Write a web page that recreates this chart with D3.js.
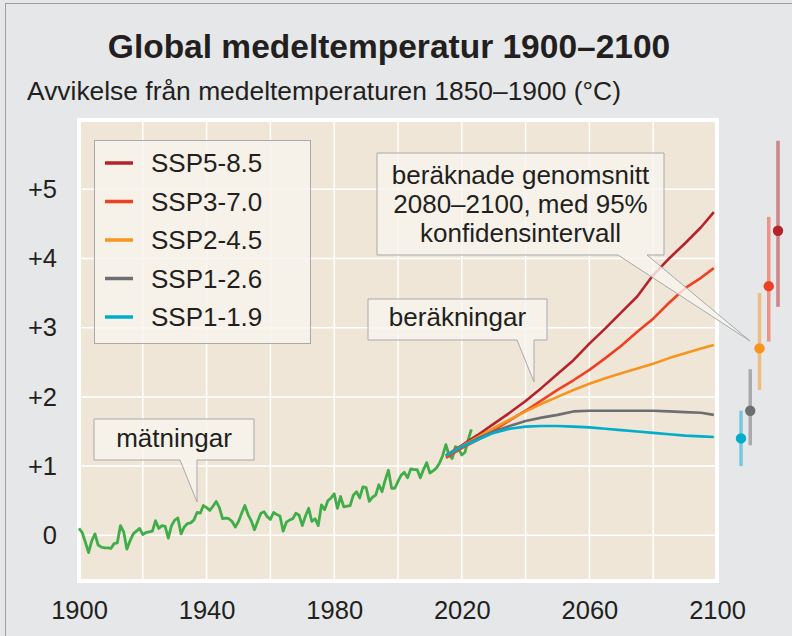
<!DOCTYPE html>
<html>
<head>
<meta charset="utf-8">
<script src="https://cdn.jsdelivr.net/npm/d3@7"></script>
<style>
  body { margin: 0; background: #e6e7e8; }
  svg { display: block; font-family: "Liberation Sans", Arial, sans-serif; }
</style>
</head>
<body>
<div id="chart"></div>
<script>
// observed anomalies 1900-2023 (one per year)
const obsStart = 1900
const observed = [
  0.10, 0.04, -0.10, -0.25, -0.08, 0.02, -0.14, -0.17, -0.18, -0.18,
  -0.19, -0.12, -0.11, 0.14, 0.05, -0.20, -0.08, 0.02, 0.06, 0.10,
  0.01, 0.04, 0.05, 0.06, 0.21, 0.10, 0.14, 0.13, -0.04, 0.14,
  0.22, 0.25, 0.02, 0.12, 0.17, 0.18, 0.22, 0.33, 0.32, 0.43,
  0.40, 0.36, 0.42, 0.49, 0.40, 0.24, 0.25, 0.24, 0.20, 0.12,
  0.20, 0.32, 0.43, 0.30, 0.21, 0.08, 0.20, 0.32, 0.34, 0.27,
  0.23, 0.33, 0.30, 0.28, 0.06, 0.19, 0.22, 0.24, 0.32, 0.29,
  0.14, 0.28, 0.39, 0.20, 0.24, 0.14, 0.44, 0.37, 0.50, 0.54,
  0.60, 0.39, 0.56, 0.41, 0.42, 0.43, 0.58, 0.63, 0.54, 0.70,
  0.69, 0.49, 0.55, 0.58, 0.73, 0.63, 0.80, 0.94, 0.68, 0.68,
  0.78, 0.87, 0.91, 0.83, 0.96, 0.95, 0.95, 0.83, 0.95, 1.05,
  0.90, 0.93, 0.97, 1.04, 1.15, 1.31, 1.16, 1.11, 1.28, 1.25,
  1.16, 1.20, 1.38, 1.53
]

// scenario projections
const projYears = [2015, 2020, 2025, 2030, 2035, 2040, 2045, 2050, 2055, 2060, 2065, 2070, 2075, 2080, 2085, 2090, 2095, 2099]
const ssp585 = [1.15, 1.30, 1.45, 1.61, 1.77, 1.94, 2.13, 2.33, 2.53, 2.77, 2.99, 3.22, 3.45, 3.76, 4.00, 4.22, 4.45, 4.67]
const ssp370 = [1.12, 1.26, 1.38, 1.52, 1.66, 1.80, 1.95, 2.10, 2.24, 2.39, 2.56, 2.74, 2.94, 3.13, 3.36, 3.57, 3.72, 3.86]
const ssp245 = [1.15, 1.29, 1.42, 1.55, 1.67, 1.79, 1.90, 2.00, 2.10, 2.19, 2.27, 2.34, 2.41, 2.48, 2.56, 2.63, 2.70, 2.75]
const ssp126 = [1.15, 1.28, 1.40, 1.50, 1.58, 1.65, 1.70, 1.74, 1.79, 1.80, 1.80, 1.80, 1.80, 1.80, 1.79, 1.78, 1.77, 1.74]
const ssp119 = [1.15, 1.28, 1.38, 1.48, 1.54, 1.57, 1.58, 1.58, 1.57, 1.56, 1.54, 1.52, 1.50, 1.48, 1.46, 1.44, 1.43, 1.42]

// 2080-2100 means with 95% interval
const scenarios = ['SSP5-8.5', 'SSP3-7.0', 'SSP2-4.5', 'SSP1-2.6', 'SSP1-1.9']
const colors = ['#b5232a', '#ee4023', '#f7941d', '#6d6e71', '#00aecb']
const endMean = [4.4, 3.6, 2.7, 1.8, 1.4]
const endLow = [3.3, 2.8, 2.1, 1.3, 1.0]
const endHigh = [5.7, 4.6, 3.5, 2.4, 1.8]

const xTicks = [1900, 1940, 1980, 2020, 2060, 2100]
const yTicks = [0, 1, 2, 3, 4, 5]
const yTickLabels = ['0', '+1', '+2', '+3', '+4', '+5']

const WIDTH = 792
const HEIGHT = 636
const PLOT = {'LEFT': 79, 'RIGHT': 717, 'TOP': 120, 'BOTTOM': 581}
const TEXT = '#231f20'

const svg = d3.select('#chart')
  .append('svg')
    .attr('width', WIDTH)
    .attr('height', HEIGHT)

// outer frame
svg.append('rect')
  .attr('x', 5.5).attr('y', 3.5)
  .attr('width', WIDTH).attr('height', HEIGHT)
  .attr('fill', '#e6e7e8')
  .attr('stroke', '#9d9fa2')

// titles
svg.append('text')
  .attr('x', 389).attr('y', 58)
  .attr('text-anchor', 'middle')
  .attr('font-size', 33.5)
  .attr('font-weight', 'bold')
  .attr('fill', TEXT)
  .text('Global medeltemperatur 1900–2100')

svg.append('text')
  .attr('x', 27).attr('y', 100)
  .attr('font-size', 26.4)
  .attr('fill', TEXT)
  .text('Avvikelse från medeltemperaturen 1850–1900 (°C)')

const x = d3.scaleLinear()
  .domain([1900, 2100])
  .range([PLOT.LEFT, PLOT.RIGHT])

const y = d3.scaleLinear()
  .domain([-0.66, 6])
  .range([PLOT.BOTTOM, PLOT.TOP])

// plot background
svg.append('rect')
  .attr('x', PLOT.LEFT).attr('y', PLOT.TOP)
  .attr('width', PLOT.RIGHT - PLOT.LEFT)
  .attr('height', PLOT.BOTTOM - PLOT.TOP)
  .attr('fill', '#efe6d7')
  .attr('stroke', '#ffffff')
  .attr('stroke-width', 4)

// grid
svg.append('g')
  .selectAll('line')
  .data(d3.range(1920, 2100, 20))
  .enter().append('line')
    .attr('x1', d => x(d)).attr('x2', d => x(d))
    .attr('y1', PLOT.TOP).attr('y2', PLOT.BOTTOM)
    .attr('stroke', '#ffffff').attr('stroke-width', 1.5)

svg.append('g')
  .selectAll('line')
  .data(yTicks)
  .enter().append('line')
    .attr('x1', PLOT.LEFT).attr('x2', PLOT.RIGHT)
    .attr('y1', d => y(d)).attr('y2', d => y(d))
    .attr('stroke', '#ffffff').attr('stroke-width', 1.5)

// axes, text only
const xAxis = svg.append('g')
  .attr('transform', `translate(0, ${PLOT.BOTTOM})`)
  .call(d3.axisBottom(x).tickValues(xTicks).tickFormat(d3.format('d')).tickSize(0).tickPadding(20))
xAxis.select('.domain').remove()
xAxis.selectAll('text')
  .attr('font-size', 25.5)
  .attr('font-family', '"Liberation Sans", Arial, sans-serif')
  .attr('fill', TEXT)

const yAxis = svg.append('g')
  .attr('transform', `translate(57, 0)`)
  .call(d3.axisLeft(y).tickValues(yTicks).tickFormat((d, i) => yTickLabels[i]).tickSize(0).tickPadding(0))
yAxis.select('.domain').remove()
yAxis.selectAll('text')
  .attr('font-size', 25.5)
  .attr('font-family', '"Liberation Sans", Arial, sans-serif')
  .attr('fill', TEXT)

// lines
const line = d3.line()
  .x(d => x(d[0]))
  .y(d => y(d[1]))

svg.append('path')
  .datum(observed.map((v, i) => [obsStart + i, v]))
  .attr('d', line)
  .attr('fill', 'none')
  .attr('stroke', '#3fae49')
  .attr('stroke-width', 2.8)
  .attr('stroke-linejoin', 'round')

const projections = [ssp585, ssp370, ssp245, ssp126, ssp119]
projections.forEach((series, i) => {
  svg.append('path')
    .datum(series.map((v, j) => [projYears[j], v]))
    .attr('d', line)
    .attr('fill', 'none')
    .attr('stroke', colors[i])
    .attr('stroke-width', 2.6)
    .attr('stroke-linejoin', 'round')
})

// end-of-century ranges
const xEnd = d3.scalePoint()
  .domain(scenarios.slice().reverse())
  .range([741, 778])

const ends = svg.append('g')
scenarios.forEach((s, i) => {
  ends.append('line')
    .attr('x1', xEnd(s)).attr('x2', xEnd(s))
    .attr('y1', y(endLow[i])).attr('y2', y(endHigh[i]))
    .attr('stroke', colors[i])
    .attr('stroke-opacity', 0.5)
    .attr('stroke-width', 3.5)
  ends.append('circle')
    .attr('cx', xEnd(s)).attr('cy', y(endMean[i]))
    .attr('r', 5.2)
    .attr('fill', colors[i])
})

// callout boxes with pointers
function callout(box, base, tip, lines, baseline) {
  const [x0, y0, x1, y1] = box
  const p = d3.path()
  p.moveTo(x0, y0)
  p.lineTo(x1, y0)
  p.lineTo(x1, y1)
  p.lineTo(base[1], y1)
  p.lineTo(tip[0], tip[1])
  p.lineTo(base[0], y1)
  p.lineTo(x0, y1)
  p.closePath()
  svg.append('path')
    .attr('d', p.toString())
    .attr('fill', '#f8f4ee')
    .attr('fill-opacity', 0.82)
    .attr('stroke', '#a7a9ac')
    .attr('stroke-width', 1)
  lines.forEach((t, i) => {
    svg.append('text')
      .attr('x', (x0 + x1) / 2)
      .attr('y', baseline + i * 29)
      .attr('text-anchor', 'middle')
      .attr('font-size', 26)
      .attr('fill', TEXT)
      .text(t)
  })
}

callout([94, 419, 254, 460], [180, 197], [197, 502], ['mätningar'], 447)
callout([368, 299, 547, 340], [517, 534], [534, 382], ['beräkningar'], 326)
callout([377, 153, 664, 255], [618, 647], [750, 341], ['beräknade genomsnitt', '2080–2100, med 95%', 'konfidensintervall'], 184)

// legend
const legend = svg.append('g')
legend.append('rect')
  .attr('x', 94.5).attr('y', 140.5)
  .attr('width', 216).attr('height', 203)
  .attr('fill', '#f8f4ee')
  .attr('fill-opacity', 0.82)
  .attr('stroke', '#a7a9ac')

const legendY = d3.scalePoint()
  .domain(scenarios)
  .range([163, 317])

scenarios.forEach((s, i) => {
  legend.append('line')
    .attr('x1', 105).attr('x2', 133)
    .attr('y1', legendY(s)).attr('y2', legendY(s))
    .attr('stroke', colors[i])
    .attr('stroke-width', 3.5)
  legend.append('text')
    .attr('x', 151).attr('y', legendY(s))
    .attr('dy', '0.35em')
    .attr('font-size', 26)
    .attr('fill', TEXT)
    .text(s)
})
</script>
</body>
</html>
